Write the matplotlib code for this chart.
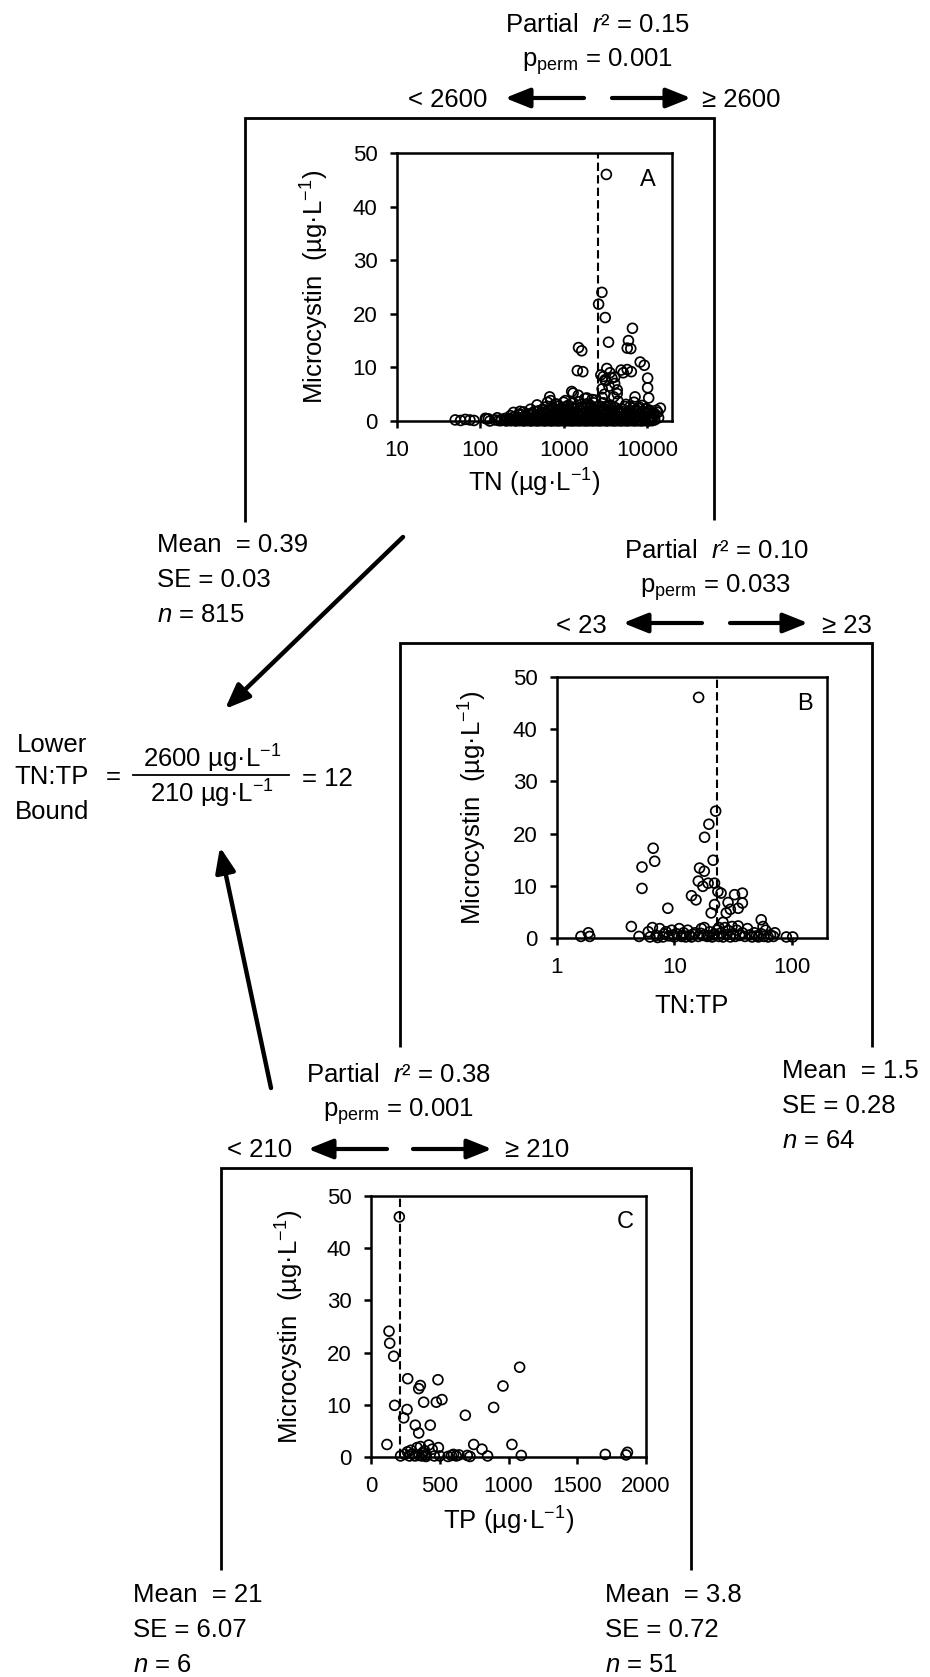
import matplotlib
matplotlib.use('Agg')
import matplotlib.pyplot as plt

# ---------------- data ----------------
# Panel A: TN (ug/L) vs microcystin (ug/L)
tn_a = [3260, 2880, 2630, 3160, 3460, 6700, 6000, 6400, 5800, 1510, 1650, 1460, 1700,
        2800, 3300, 3600, 4900, 6500, 8300, 9300, 10200, 10200, 10500, 7200, 4100, 4400,
        4400, 1250, 1500, 680, 3000, 3200, 3800, 2900, 3100, 3500, 4000, 5200, 14500, 13000,
        12000, 700, 800, 1000, 1100, 1800, 2000, 2300, 2500, 900, 3150, 5800, 2900, 4100,
        1900, 2200, 1300, 115, 125,
        50, 58, 66, 75, 84, 118, 150, 165, 180, 195, 210, 225, 240, 255, 270, 285, 300, 320,
        340, 360, 380, 400, 425, 450, 475, 500, 530, 560, 590, 620, 650, 690, 730, 770, 810,
        850, 900, 950, 1000, 1060, 1120, 1180, 1250, 1320, 1400, 1480, 1560, 1650, 1750, 1850,
        1950, 2050, 2200, 2350, 2500, 2700, 2900, 3100, 3300, 3600, 3900, 4200, 4600, 5000,
        5500, 6000, 6600, 7200, 7900, 8600, 9400, 10300, 11300, 12400,
        230, 260, 300, 340, 380, 420, 470, 520, 570, 630, 700, 770, 850, 930, 1020, 1120, 1230,
        1350, 1480, 1620, 1780, 1950, 2150, 2350, 2600, 2850, 3150, 3450, 3800, 4200, 4600,
        5100, 5600, 6200, 6800, 7500, 8300, 9100, 10000, 11000, 12500,
        300, 400, 500, 600, 650, 720, 800, 880, 970, 1070, 1180, 1300, 1430, 1570, 1730, 1900,
        2100, 2300, 2550, 2800, 3100, 3400, 3750, 4150, 4550, 5000, 5500, 6100, 6700, 7400,
        8100, 8900, 9800, 10800,
        160, 200, 250, 310, 370, 440, 520, 610, 710, 820, 940, 1080, 1240, 1420, 1630, 1870,
        2150, 2450, 2800, 3200, 3650, 4150, 4750, 5400, 6200, 7100, 8100, 9300, 10600, 12000,
        13800,
        130, 175, 205, 235, 265, 295, 330, 365, 405, 445, 490, 540, 595, 655, 720, 790, 870,
        960, 1050, 1160, 1270, 1400, 1540, 1690, 1860, 2040, 2250, 2480, 2720, 3000, 3300,
        3630, 4000, 4400, 4850, 5300, 5850, 6450, 7100, 7800, 8600, 9500, 10400, 11500,
        480, 560, 640, 740, 840, 950, 1050, 1150, 1250, 1350, 1550, 1700, 1900, 2100, 2400,
        2700, 3000, 3300, 3600, 4000, 4500, 5000, 5600, 6300, 7000, 7800, 8700, 9600,
        250, 290, 330, 390, 450, 500, 550, 610, 680, 750, 820, 900, 990, 1100, 1200, 1300,
        1450, 1600, 1750, 1900, 2050, 2250, 2500, 2750, 3050, 3350, 3700, 4100, 4500, 5000,
        5500, 6000, 6700, 7400, 8200, 9000, 9900, 11000, 12300, 13500]
mc_a = [46.0, 24.0, 21.8, 19.3, 14.7, 17.3, 15.0, 13.5, 13.6, 13.7, 13.1, 9.4, 9.2,
        8.6, 9.8, 9.0, 9.5, 9.2, 11.0, 10.4, 8.0, 6.2, 4.3, 4.5, 7.0, 5.8,
        5.1, 5.5, 4.8, 4.5, 8.3, 7.5, 8.0, 6.0, 5.0, 6.5, 4.5, 9.0, 2.4, 2.0,
        1.5, 3.8, 3.2, 3.5, 2.8, 4.2, 3.0, 3.4, 2.6, 2.0, 7.7, 9.6, 4.4, 8.2,
        4.3, 4.0, 5.2, 0.5, 0.4,
        0.2, 0.1, 0.3, 0.2, 0.1, 0.4, 0.2, 0.1, 0.3, 0.2, 0.4, 0.1, 0.3, 0.2, 0.1, 0.4, 0.2, 0.3,
        0.1, 0.2, 0.4, 0.1, 0.3, 0.2, 0.1, 0.4, 0.2, 0.3, 0.1, 0.2, 0.4, 0.1, 0.3, 0.2, 0.1,
        0.4, 0.2, 0.3, 0.1, 0.2, 0.4, 0.1, 0.3, 0.2, 0.1, 0.4, 0.2, 0.3, 0.1, 0.2,
        0.4, 0.1, 0.3, 0.2, 0.1, 0.4, 0.2, 0.3, 0.1, 0.2, 0.4, 0.1, 0.3, 0.2,
        0.1, 0.4, 0.2, 0.3, 0.1, 0.2, 0.4, 0.1, 0.3, 0.2,
        1.0, 0.8, 1.3, 0.9, 1.2, 1.5, 0.8, 1.1, 1.4, 0.9, 1.2, 1.5, 0.8, 1.1, 1.3, 0.9, 1.4,
        1.0, 1.5, 0.8, 1.2, 1.0, 1.4, 0.9, 1.3, 1.1, 1.5, 0.8, 1.2, 1.0, 1.4,
        0.9, 1.3, 1.1, 1.5, 0.8, 1.2, 1.0, 1.4, 0.9, 1.3,
        1.8, 2.2, 1.9, 2.6, 2.0, 2.4, 1.8, 2.8, 2.1, 2.5, 1.9, 2.3, 2.7, 2.0, 2.4, 1.8,
        2.9, 2.2, 2.6, 1.9, 2.3, 2.8, 2.0, 2.5, 1.8, 2.2, 2.7, 1.9, 2.4, 2.1,
        2.6, 1.8, 2.3, 2.0,
        0.6, 0.5, 0.7, 0.6, 0.5, 0.7, 0.6, 0.5, 0.7, 0.6, 0.5, 0.7, 0.6, 0.5, 0.7, 0.6,
        0.5, 0.7, 0.6, 0.5, 0.7, 0.6, 0.5, 0.7, 0.6, 0.5, 0.7, 0.6, 0.5, 0.7,
        0.6,
        0.0, 0.05, 0.0, 0.05, 0.0, 0.05, 0.0, 0.05, 0.0, 0.05, 0.0, 0.05, 0.0, 0.05, 0.0,
        0.05, 0.0, 0.05, 0.0, 0.05, 0.0, 0.05, 0.0, 0.05, 0.0, 0.05, 0.0, 0.05, 0.0, 0.05,
        0.0, 0.05, 0.0, 0.05, 0.0, 0.05, 0.0, 0.05, 0.0, 0.05, 0.0, 0.05, 0.0, 0.05,
        3.0, 2.2, 3.5, 2.6, 3.1, 2.4, 3.8, 2.9, 3.3, 2.5, 3.6, 2.7, 3.2, 2.4, 3.9,
        2.8, 3.4, 2.6, 3.0, 2.5, 3.7, 2.3, 3.1, 2.7, 3.5, 2.4, 2.9, 2.2,
        1.6, 1.2, 1.7, 1.3, 1.8, 1.1, 1.6, 1.4, 1.9, 1.2, 1.7, 1.3, 1.5, 1.8, 1.2, 1.6,
        1.4, 1.9, 1.3, 1.7, 1.5, 1.8, 1.2, 1.6, 1.4, 1.9, 1.3, 1.7, 1.5, 1.8,
        1.2, 1.6, 1.4, 1.9, 1.3, 1.7, 1.5, 1.8, 1.2, 1.6]

# Panel B: TN:TP vs microcystin (TN >= 2600)
tntp_b = [16.1, 22.5, 19.7, 18.1, 21.4, 6.6, 6.8, 5.3, 5.3, 16.4, 18.0, 16.0, 17.5, 19.4,
          22.0, 23.5, 14.0, 15.3, 25.0, 28.7, 27.7, 22.0, 20.6, 32.6, 38.0, 38.0, 35.0, 8.8,
          4.3, 55.0, 57.0, 30.0, 26.0, 24.0,
          1.6, 1.85, 1.9, 5.0, 6.2, 6.5, 7.0, 7.5, 8.0, 8.5, 9.0, 9.5, 10.0, 10.5, 11.0, 11.5,
          12.0, 12.5, 13.0, 13.5, 14.0, 15.0, 16.0, 17.0, 17.5, 18.0, 19.0, 20.0, 21.0, 22.0,
          23.0, 24.0, 25.0, 26.0, 27.0, 28.0, 29.0, 30.0, 31.0, 32.0, 33.0, 34.0, 35.0, 36.0,
          38.0, 40.0, 42.0, 44.0, 46.0, 48.0, 50.0, 52.0, 55.0, 58.0, 60.0, 63.0, 66.0, 70.0,
          72.0, 90.0, 102.0, 6.0, 7.2, 8.2, 9.8, 11.8, 14.5, 16.8, 19.5, 21.5]
mc_b = [46.1, 24.3, 21.8, 19.3, 14.9, 17.2, 14.7, 13.6, 9.5, 13.4, 12.8, 10.9, 9.9, 10.5,
        10.5, 8.9, 8.1, 7.3, 8.6, 6.8, 4.8, 6.4, 4.8, 8.3, 8.6, 6.7, 5.7, 5.7,
        2.2, 3.5, 2.2, 5.5, 3.0, 2.0,
        0.3, 1.0, 0.3, 0.3, 0.2, 2.0, 0.5, 1.8, 0.2, 1.2, 0.4, 1.5, 0.2, 0.8, 1.8, 0.3,
        1.0, 0.2, 1.5, 0.5, 0.2, 1.0, 0.3, 1.8, 0.5, 2.0, 0.3, 1.2, 0.2, 0.8,
        1.5, 0.3, 1.0, 0.2, 2.0, 0.6, 1.4, 0.2, 2.2, 0.8, 0.3, 1.5, 2.3, 0.5,
        1.0, 0.3, 1.8, 0.6, 0.2, 1.0, 0.4, 0.2, 0.8, 0.3, 1.5, 0.2, 0.6, 0.3,
        1.0, 0.2, 0.2, 1.2, 0.1, 0.8, 0.6, 0.5, 0.7, 0.9, 0.4, 0.6]

# Panel C: TP (ug/L) vs microcystin (TN >= 2600, TN:TP < 23)
tp_c = [206, 131, 136, 165, 172, 116,
        238, 262, 267, 347, 359, 383, 475, 516, 487, 322, 347, 431, 686, 892, 960, 1081,
        1025, 1093, 747, 807, 848, 1704, 1855, 1865,
        215, 245, 265, 280, 300, 320, 335, 350, 360, 370, 390, 400, 420, 445, 460, 490,
        500, 560, 585, 600, 620, 640, 700, 720, 400, 290, 375]
mc_c = [46.0, 24.1, 21.8, 19.3, 9.9, 2.4,
        7.5, 9.1, 15.0, 13.1, 13.7, 10.5, 10.5, 11.0, 14.8, 6.1, 4.6, 6.1, 8.0, 9.5, 13.6, 17.2,
        2.4, 0.3, 2.4, 1.5, 0.2, 0.5, 0.4, 0.9,
        0.2, 0.5, 1.0, 0.2, 0.6, 0.2, 1.8, 0.3, 2.0, 0.2, 1.2, 0.4, 2.3, 1.5, 0.2, 1.8,
        0.2, 0.1, 0.3, 0.5, 0.2, 0.4, 0.3, 0.1, 0.1, 1.3, 0.8]

split_a, split_b, split_c = 2600, 23, 210
y_ticks = [0, 10, 20, 30, 40, 50]
a_xticks = [10, 100, 1000, 10000]
b_xticks = [1, 10, 100]
c_xticks = [0, 500, 1000, 1500, 2000]

# ---------------- figure ----------------
W, H = 930, 1677
plt.rcParams['font.family'] = ['Liberation Sans', 'DejaVu Sans']
plt.rcParams['mathtext.fontset'] = 'custom'
plt.rcParams['mathtext.rm'] = 'Liberation Sans'
plt.rcParams['mathtext.it'] = 'Liberation Sans:italic'
plt.rcParams['mathtext.bf'] = 'Liberation Sans:bold'

fig = plt.figure(figsize=(W / 100, H / 100), dpi=100)

UNIT = 'µg·L$^{-1}$'
FS = 18.5
TFS = 16


def panel(box):
    l, t, r, b = box
    return fig.add_axes([l / W, 1 - b / H, (r - l) / W, (b - t) / H])


def style(ax, box, ylab_x, xlab_base, xlabel):
    l, t, r, b = box
    for s in ax.spines.values():
        s.set_linewidth(1.8)
    ax.tick_params(direction='out', length=5, width=1.8, labelsize=TFS, pad=9)
    ax.tick_params(which='minor', length=0)
    ax.set_ylim(0, 50)
    ax.set_yticks(y_ticks)
    ax.set_ylabel('Microcystin  (' + UNIT + ')', fontsize=FS, va='center')
    ax.yaxis.set_label_coords((ylab_x - l) / (r - l), 0.5)
    ax.set_xlabel(xlabel, fontsize=FS, va='baseline')
    ax.xaxis.set_label_coords(0.5, (b - xlab_base) / (b - t))


def scat(ax, x, y):
    ax.scatter(x, y, s=50, facecolors='none', edgecolors='black', linewidths=1.25,
               zorder=3, clip_on=False)


dash = (0, (4, 2))

# Panel A
boxA = (397, 153, 672, 421)
axA = panel(boxA)
axA.set_xscale('log')
scat(axA, tn_a, mc_a)
axA.axvline(split_a, color='black', lw=1.5, ls=dash, zorder=2)
axA.set_xlim(10, 20000)
axA.set_xticks(a_xticks)
axA.set_xticklabels([str(v) for v in a_xticks])
style(axA, boxA, 315, 492, 'TN (' + UNIT + ')')
axA.minorticks_off()

# Panel B
boxB = (557, 677, 827, 938)
axB = panel(boxB)
axB.set_xscale('log')
scat(axB, tntp_b, mc_b)
axB.axvline(split_b, color='black', lw=1.5, ls=dash, zorder=2)
axB.set_xlim(1, 200)
axB.set_xticks(b_xticks)
axB.set_xticklabels([str(v) for v in b_xticks])
style(axB, boxB, 473, 1013, 'TN:TP')
axB.minorticks_off()

# Panel C
boxC = (371, 1196, 646, 1457)
axC = panel(boxC)
scat(axC, tp_c, mc_c)
axC.axvline(split_c, color='black', lw=1.5, ls=dash, zorder=2)
axC.set_xlim(0, 2000)
axC.set_xticks(c_xticks)
style(axC, boxC, 290, 1530, 'TP (' + UNIT + ')')

# ---------------- overlay (tree) ----------------
ov = fig.add_axes([0, 0, 1, 1])
ov.set_xlim(0, W)
ov.set_ylim(H, 0)
ov.axis('off')
ov.set_zorder(10)


def txt(x, y, s, ha='left', fs=FS, **kw):
    ov.text(x, y, s, ha=ha, va='baseline', fontsize=fs, **kw)


def bracket(x0, x1, yt, yb0, yb1):
    ov.plot([x0, x0, x1, x1], [yb0, yt, yt, yb1], color='black', lw=2.0,
            solid_joinstyle='miter', solid_capstyle='butt')


def arrow(x0, y0, x1, y1, lw=3.0, hl=0.75, hw=0.3):
    ov.annotate('', xy=(x1, y1), xytext=(x0, y0),
                arrowprops=dict(arrowstyle=f'-|>,head_length={hl},head_width={hw}',
                                lw=lw, color='black', shrinkA=0, shrinkB=0,
                                mutation_scale=20))


def header(cx, base, r2, p, left, right, lt_end, la0, la1, ra0, ra1, gt_start, ay):
    txt(cx, base, 'Partial  $r$² = ' + r2, ha='center')
    txt(cx, base + 35, 'p$_{\\mathrm{perm}}$ = ' + p, ha='center')
    txt(lt_end, base + 75, '< ' + left, ha='right')
    txt(gt_start, base + 75, '≥ ' + right, ha='left')
    arrow(la0, ay, la1, ay)
    arrow(ra0, ay, ra1, ay)


# A split
header(597, 32, '0.15', '0.001', '2600', '2600', 487, 584, 505, 612, 691, 702, 98)
bracket(245, 714, 118, 522, 520)
# B split
header(716, 558, '0.10', '0.033', '23', '23', 607, 702, 623, 730, 808, 822, 623)
bracket(400, 872, 643, 1047, 1047)
# C split
header(398, 1082, '0.38', '0.001', '210', '210', 292, 387, 308, 413, 492, 505, 1149)
bracket(221, 691, 1168, 1570, 1570)

# panel letters
txt(648, 186, 'A', ha='center', fs=17)
txt(805, 710, 'B', ha='center', fs=17)
txt(625, 1228, 'C', ha='center', fs=17)


def leaf(x, base, mean, se, n):
    txt(x, base, 'Mean  = ' + mean)
    txt(x, base + 35, 'SE = ' + se)
    txt(x, base + 70, '$n$ = ' + n)


leaf(157, 552, '0.39', '0.03', '815')
leaf(782, 1078, '1.5', '0.28', '64')
leaf(133, 1602, '21', '6.07', '6')
leaf(605, 1602, '3.8', '0.72', '51')

# formula
txt(52, 752, 'Lower', ha='center')
txt(52, 784, 'TN:TP', ha='center')
txt(52, 819, 'Bound', ha='center')
txt(113, 784, '=', ha='center')
ov.plot([133, 289], [775, 775], color='black', lw=1.3)
txt(212, 768, '2600 ' + UNIT, ha='center')
txt(212, 803, '210 ' + UNIT, ha='center')
txt(302, 786, '= 12', ha='left')

# arrows to formula
arrow(403, 537, 225, 709, lw=3.2)
arrow(271, 1088, 220, 847, lw=3.2)

fig.savefig('out.png', dpi=100)
